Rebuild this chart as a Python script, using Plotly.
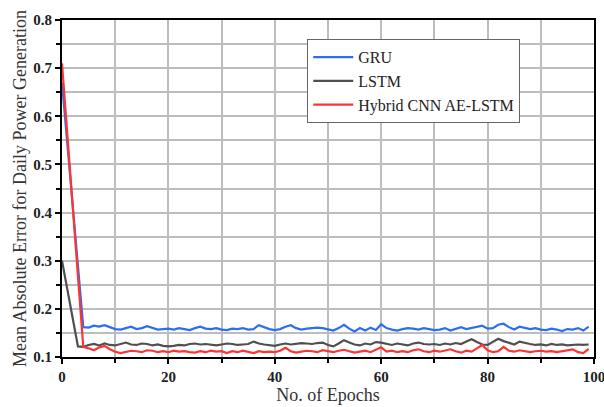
import plotly.graph_objects as go

epochs = list(range(100))

gru = [0.670, 0.545, 0.415, 0.290, 0.162, 0.161, 0.165, 0.163, 0.166, 0.162,
       0.158, 0.157, 0.160, 0.163, 0.158, 0.160, 0.164, 0.161, 0.157, 0.158,
       0.159, 0.157, 0.160, 0.158, 0.156, 0.160, 0.163, 0.159, 0.158, 0.160,
       0.157, 0.156, 0.159, 0.158, 0.160, 0.157, 0.158, 0.166, 0.162, 0.158,
       0.156, 0.158, 0.163, 0.166, 0.160, 0.157, 0.159, 0.160, 0.161, 0.160,
       0.157, 0.155, 0.160, 0.167, 0.159, 0.153, 0.160, 0.155, 0.161, 0.156,
       0.168, 0.160, 0.157, 0.155, 0.158, 0.160, 0.159, 0.157, 0.160, 0.158,
       0.156, 0.157, 0.160, 0.155, 0.158, 0.162, 0.158, 0.160, 0.163, 0.165,
       0.159, 0.160, 0.167, 0.169, 0.162, 0.157, 0.163, 0.160, 0.158, 0.160,
       0.157, 0.156, 0.159, 0.157, 0.154, 0.158, 0.157, 0.160, 0.155, 0.163]

lstm = [0.300, 0.240, 0.175, 0.122, 0.121, 0.125, 0.127, 0.124, 0.128, 0.125,
        0.124, 0.127, 0.130, 0.126, 0.125, 0.128, 0.127, 0.124, 0.126, 0.123,
        0.122, 0.123, 0.125, 0.124, 0.127, 0.128, 0.126, 0.127, 0.125, 0.124,
        0.126, 0.128, 0.127, 0.125, 0.126, 0.127, 0.132, 0.128, 0.126, 0.125,
        0.123, 0.126, 0.128, 0.126, 0.127, 0.129, 0.128, 0.127, 0.129, 0.130,
        0.125, 0.122, 0.128, 0.135, 0.130, 0.126, 0.124, 0.128, 0.126, 0.131,
        0.130, 0.127, 0.125, 0.128, 0.126, 0.124, 0.128, 0.130, 0.127, 0.126,
        0.127, 0.125, 0.128, 0.126, 0.129, 0.127, 0.132, 0.137, 0.131, 0.126,
        0.125, 0.132, 0.138, 0.133, 0.129, 0.126, 0.132, 0.129, 0.127, 0.125,
        0.126, 0.124, 0.127, 0.125, 0.126, 0.124, 0.125, 0.126, 0.125, 0.126]

hybrid = [0.710, 0.560, 0.415, 0.270, 0.121, 0.118, 0.114, 0.120, 0.123, 0.116,
          0.111, 0.108, 0.110, 0.113, 0.112, 0.110, 0.114, 0.113, 0.110, 0.112,
          0.110, 0.113, 0.111, 0.112, 0.110, 0.109, 0.112, 0.110, 0.113, 0.111,
          0.112, 0.108, 0.112, 0.110, 0.113, 0.111, 0.108, 0.112, 0.110, 0.111,
          0.110, 0.113, 0.119, 0.112, 0.109, 0.111, 0.113, 0.112, 0.110, 0.114,
          0.112, 0.110, 0.113, 0.115, 0.112, 0.109, 0.111, 0.113, 0.110, 0.115,
          0.120, 0.111, 0.113, 0.110, 0.112, 0.110, 0.114, 0.116, 0.112, 0.110,
          0.113, 0.111, 0.114, 0.116, 0.112, 0.109, 0.113, 0.111, 0.118, 0.125,
          0.114, 0.110, 0.112, 0.121, 0.113, 0.111, 0.114, 0.112, 0.110, 0.112,
          0.113, 0.111, 0.112, 0.110, 0.112, 0.114, 0.116, 0.110, 0.108, 0.117]

series_names = ["GRU", "LSTM", "Hybrid CNN AE-LSTM"]
series_colors = ["#2a6ff0", "#4f4f4f", "#ff3333"]

x_ticks = [0, 20, 40, 60, 80, 100]
y_ticks = [0.1, 0.2, 0.3, 0.4, 0.5, 0.6, 0.7, 0.8]

fig = go.Figure()
for name, vals, col in zip(series_names, [gru, lstm, hybrid], series_colors):
    fig.add_trace(go.Scatter(x=epochs, y=vals, mode="lines", name=name,
                             line=dict(color=col, width=2.2)))

font_family = "Liberation Serif"
grid_col = "#bdbdbd"

fig.update_layout(
    width=604, height=407,
    margin=dict(l=62, r=10, t=20, b=50),
    paper_bgcolor="white", plot_bgcolor="white",
    font=dict(family=font_family, color="#222222"),
    showlegend=True,
    legend=dict(x=0.461, y=0.943, xanchor="left", yanchor="top",
                bgcolor="white", bordercolor="#666666", borderwidth=1,
                font=dict(family=font_family, size=16, color="#222222"),
                tracegroupgap=0, itemwidth=40),
)

fig.update_xaxes(
    range=[0, 100], tickvals=x_ticks, ticktext=[f"<b>{v}</b>" for v in x_ticks],
    automargin=False, ticklabeloverflow="allow",
    showgrid=True, gridcolor=grid_col, gridwidth=1.5,
    showline=True, linecolor="black", linewidth=2, mirror=True,
    ticks="outside", ticklen=5, tickwidth=2, tickcolor="black",
    minor=dict(tickvals=[10, 30, 50, 70, 90], showgrid=True, gridcolor=grid_col,
               gridwidth=1.5, ticks="outside", ticklen=4, tickwidth=2, tickcolor="black"),
    tickfont=dict(family=font_family, size=15, color="#222222"),
    title=dict(text="No. of Epochs", font=dict(family=font_family, size=18, color="#333333"),
               standoff=2),
    zeroline=False,
)
fig.update_yaxes(
    range=[0.1, 0.8], tickvals=y_ticks, ticktext=[f"<b>{v:.1f}</b>" for v in y_ticks],
    automargin=False,
    showgrid=True, gridcolor=grid_col, gridwidth=1.5,
    showline=True, linecolor="black", linewidth=2, mirror=True,
    ticks="outside", ticklen=5, tickwidth=2, tickcolor="black",
    minor=dict(dtick=0.05, tick0=0.1, showgrid=True, gridcolor=grid_col,
               gridwidth=1.5, ticks="outside", ticklen=4, tickwidth=2, tickcolor="black"),
    tickfont=dict(family=font_family, size=15, color="#222222"),
    title=dict(text="Mean Absolute Error for Daily Power Generation",
               font=dict(family=font_family, size=18, color="#333333"), standoff=2),
    zeroline=False,
)

fig.write_html("out.html", config={"displayModeBar": False},
               post_script="document.body.style.margin='0';document.body.style.overflow='hidden';")
